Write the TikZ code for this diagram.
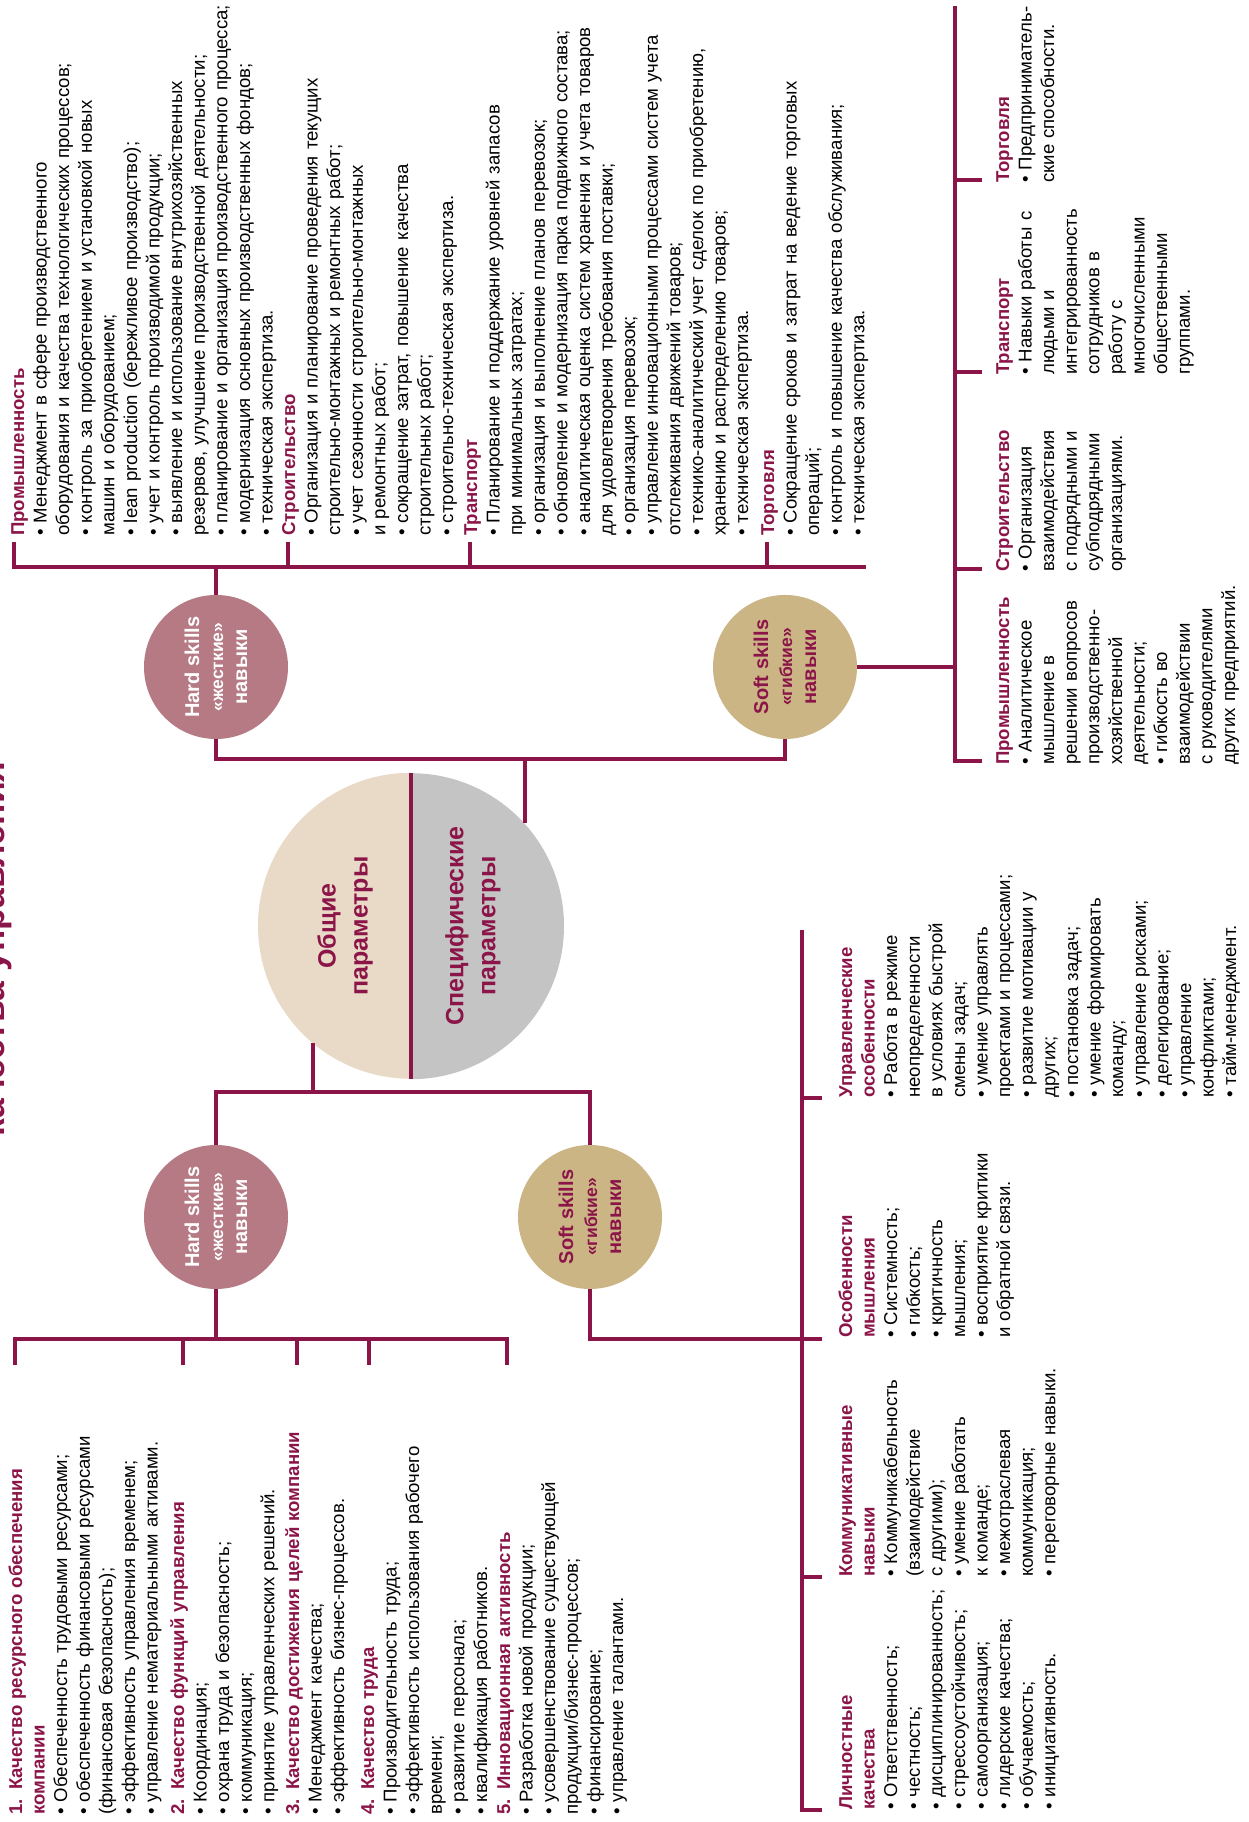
\documentclass[tikz,border=0pt]{standalone}
\usepackage{fontspec}
\setmainfont{Liberation Sans}
\definecolor{bordo}{HTML}{8B1548}
\definecolor{hardfill}{HTML}{B57A84}
\definecolor{softfill}{HTML}{CBB585}
\definecolor{genfill}{HTML}{E8DAC6}
\definecolor{specfill}{HTML}{C4C4C4}
\newcommand\hd[1]{{\color{bordo}\bfseries #1}}
\newcommand\qmid[1]{{\fontsize{17.5}{24}\selectfont#1}}
\tikzset{
	ln/.style={bordo,line width=4pt},
	blk/.style={anchor=base west,inner sep=0pt,text width=#1,align=left,
		font=\fontsize{18.6}{22.6}\selectfont},
	blk/.default=560pt,
	skill/.style={circle,minimum size=144pt,inner sep=0pt,align=center,
		font=\bfseries\fontsize{20}{24}\selectfont},
	hard/.style={skill,fill=hardfill,text=white},
	soft/.style={skill,fill=softfill,text=bordo},
	param/.style={text=bordo,align=center,font=\bfseries\fontsize{25}{32}\selectfont}
}
\begin{document}
\begin{tikzpicture}[x=1pt,y=1pt]
	\useasboundingbox (0,0) rectangle (1248,1822);
	\fill[white] (0,0) rectangle (1248,1822);
	\begin{scope}[rotate=90,transform shape]
		%%%Заголовок
		\node[anchor=base,text=bordo,font=\bfseries\fontsize{35.6}{40}\selectfont] (title) at (873,-5) {качества управления};
		%%%Центр
		\node[circle,minimum size=306pt,inner sep=0pt] (param) at (896,-411) {};
		\fill[genfill] (param.east) arc[start angle=0,end angle=180,radius=153] -- cycle;
		\fill[specfill] (param.west) arc[start angle=180,end angle=360,radius=153] -- cycle;
		\draw[ln] (param.west) -- (param.east);
		\node[param] (gen) at (896,-345) {Общие\\параметры};
		\node[param] (spec) at (896,-473) {Специфические\\параметры};
		%%%Навыки
		\node[hard] (hardG) at (605,-216) {Hard skills\\\qmid{«жесткие»}\\навыки};
		\node[soft] (softG) at (605,-590) {Soft skills\\\qmid{«гибкие»}\\навыки};
		\node[hard] (hardS) at (1155,-216) {Hard skills\\\qmid{«жесткие»}\\навыки};
		\node[soft] (softS) at (1155,-785) {Soft skills\\\qmid{«гибкие»}\\навыки};
		\coordinate (gbus) at (730,0);
		\coordinate (sbus) at (1063,0);
		\draw[ln] (param.140.6) -- (param.140.6 -| gbus);
		\draw[ln] (hardG.east) -| (gbus |- softG.east) -- (softG.east);
		\draw[ln] (param.-48.2) -- (param.-48.2 -| sbus);
		\draw[ln] (hardS.west) -| (sbus |- softS.west) -- (softS.west);
		%%%Общие: hard skills
		\node[blk] (g1) at (7,-22) {\hd{1. Качество ресурсного обеспечения}\\\hd{компании}\\• Обеспеченность трудовыми ресурсами;\\• обеспеченность финансовыми ресурсами\\(финансовая безопасность);\\• эффективность управления временем;\\• управление нематериальными активами.};
		\node[blk] (g2) at (7,-184) {\hd{2. Качество функций управления}\\• Координация;\\• охрана труда и безопасность;\\• коммуникация;\\• принятие управленческих решений.};
		\node[blk] (g3) at (7,-299) {\hd{3. Качество достижения целей компании}\\• Менеджмент качества;\\• эффективность бизнес-процессов.};
		\node[blk] (g4) at (7,-374) {\hd{4. Качество труда}\\• Производительность труда;\\• эффективность использования рабочего\\времени;\\• развитие персонала;\\• квалификация работников.};
		\node[blk] (g5) at (7,-510) {\hd{5. Инновационная активность}\\• Разработка новой продукции;\\• усовершенствование существующей\\продукции/бизнес-процессов;\\• финансирование;\\• управление талантами.};
		\draw[ln] (hardG.west) -- (483,-216);
		\draw[ln] (457,-15) -| (483,-507) -- (457,-507);
		\foreach \t in {-183,-297,-369}
		\draw[ln] (483,\t) -- (457,\t);
		%%%Общие: soft skills
		\node[blk=230pt] (p1) at (12,-852) {\hd{Личностные}\\\hd{качества}\\• Ответственность;\\• честность;\\• дисциплинированность;\\• стрессоустойчивость;\\• самоорганизация;\\• лидерские качества;\\• обучаемость;\\• инициативность.};
		\node[blk=235pt] (p2) at (245,-852) {\hd{Коммуникативные}\\\hd{навыки}\\• Коммуникабельность\\(взаимодействие\\с другими);\\• умение работать\\к команде;\\• межотраслевая\\коммуникация;\\• переговорные навыки.};
		\node[blk=235pt] (p3) at (484,-852) {\hd{Особенности}\\\hd{мышления}\\• Системность;\\• гибкость;\\• критичность\\мышления;\\• восприятие критики\\и обратной связи.};
		\node[blk=260pt] (p4) at (724,-852) {\hd{Управленческие}\\\hd{особенности}\\• Работа в режиме\\неопределенности\\в условиях быстрой\\смены задач;\\• умение управлять\\проектами и процессами;\\• развитие мотивации у\\других;\\• постановка задач;\\• умение формировать\\команду;\\• управление рисками;\\• делегирование;\\• управление\\конфликтами;\\• тайм-менеджмент.};
		\draw[ln] (softG.west) -| (483,-822);
		\draw[ln] (12,-822) |- (892,-802);
		\foreach \t in {245,724}
		\draw[ln] (\t,-802) -- (\t,-822);
		%%%Специфические: hard skills
		\node[blk] (s1) at (1286,-24) {\hd{Промышленность}\\• Менеджмент в сфере производственного\\оборудования и качества технологических процессов;\\• контроль за приобретением и установкой новых\\машин и оборудованием;\\• lean production (бережливое производство);\\• учет и контроль производимой продукции;\\• выявление и использование внутрихозяйственных\\резервов, улучшение производственной деятельности;\\• планирование и организация производственного процесса;\\• модернизация основных производственных фондов;\\• техническая экспертиза.};
		\node[blk] (s2) at (1286,-295) {\hd{Строительство}\\• Организация и планирование проведения текущих\\строительно-монтажных и ремонтных работ;\\• учет сезонности строительно-монтажных\\и ремонтных работ;\\• сокращение затрат, повышение качества\\строительных работ;\\• строительно-техническая экспертиза.};
		\node[blk] (s3) at (1286,-477) {\hd{Транспорт}\\• Планирование и поддержание уровней запасов\\при минимальных затратах;\\• организация и выполнение планов перевозок;\\• обновление и модернизация парка подвижного состава;\\• аналитическая оценка систем хранения и учета товаров\\для удовлетворения требования поставки;\\• организация перевозок;\\• управление инновационными процессами систем учета\\отслеживания движений товаров;\\• технико-аналитический учет сделок по приобретению,\\хранению и распределению товаров;\\• техническая экспертиза.};
		\node[blk] (s4) at (1286,-774) {\hd{Торговля}\\• Сокращение сроков и затрат на ведение торговых\\операций;\\• контроль и повышение качества обслуживания;\\• техническая экспертиза.};
		\draw[ln] (hardS.east) -- (1255,-216);
		\draw[ln] (1280,-14) -| (1255,-866);
		\foreach \t in {-288,-470,-767}
		\draw[ln] (1255,\t) -- (1280,\t);
		%%%Специфические: soft skills
		\node[blk=190pt] (q1) at (1057,-1009) {\hd{Промышленность}\\• Аналитическое\\мышление в\\решении вопросов\\производственно-\\хозяйственной\\деятельности;\\• гибкость во\\взаимодействии\\с руководителями\\других предприятий.};
		\node[blk=190pt] (q2) at (1250,-1009) {\hd{Строительство}\\• Организация\\взаимодействия\\с подрядными и\\субподрядными\\организациями.};
		\node[blk=190pt] (q3) at (1447,-1009) {\hd{Транспорт}\\• Навыки работы с\\людьми и\\интегрированность\\сотрудников в\\работу с\\многочисленными\\общественными\\группами.};
		\node[blk=180pt] (q4) at (1639,-1009) {\hd{Торговля}\\• Предприниматель-\\ские способности.};
		\draw[ln] (softS.south) -- (1155,-955);
		\draw[ln] (1061,-982) |- (1816,-955);
		\foreach \t in {1253,1450,1642}
		\draw[ln] (\t,-955) -- (\t,-982);
	\end{scope}
\end{tikzpicture}
\end{document}
